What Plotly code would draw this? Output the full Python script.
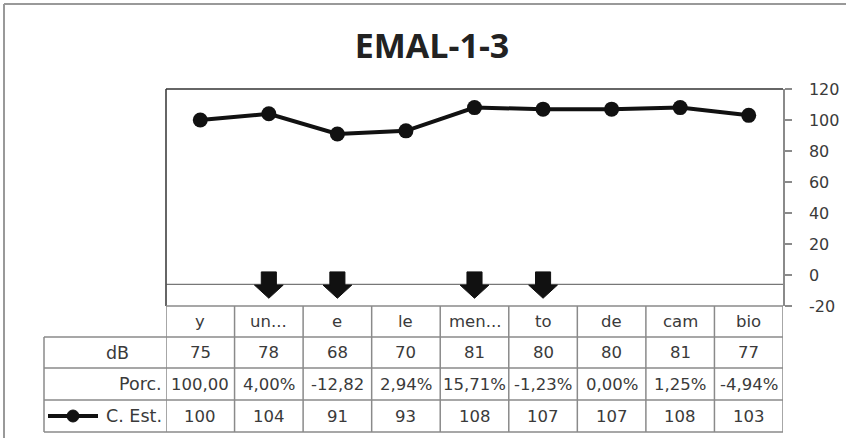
import plotly.graph_objects as go

# ---- data ----
categories = ["y", "un...", "e", "le", "men...", "to", "de", "cam", "bio"]
db_values = ["75", "78", "68", "70", "81", "80", "80", "81", "77"]
porc_values = ["100,00", "4,00%", "-12,82", "2,94%", "15,71%", "-1,23%", "0,00%", "1,25%", "-4,94%"]
c_est = [100, 104, 91, 93, 108, 107, 107, 108, 103]
arrow_cats = ["un...", "e", "men...", "to"]
row_labels = ["dB", "Porc.", "C. Est."]
title_text = "EMAL-1-3"
y_ticks = [-20, 0, 20, 40, 60, 80, 100, 120]
y_tick_labels = ["-20", "0", "20", "40", "60", "80", "100", "120"]
cross_level = -6

# ---- layout geometry (pixels) ----
W, H = 846, 441
L, R, T, B = 166, 783, 89, 306
TBL_LEFT = 44
ROW_EDGES = [306, 337, 368, 400, 432]

def px_x(p):
    return (p - L) / (R - L)

def px_y(p):
    return (B - p) / (B - T)

GRID = "#8a8a8a"
FONT = "DejaVu Sans"
TXT = "#3a3a3a"

fig = go.Figure()
fig.add_trace(go.Scatter(
    x=categories, y=c_est, mode="lines+markers",
    line=dict(color="#111111", width=4),
    marker=dict(color="#111111", size=15),
    showlegend=False, hoverinfo="skip",
))

shapes = []
annotations = []

# outer frame
shapes.append(dict(type="line", xref="paper", yref="paper",
                   x0=px_x(4), x1=px_x(W), y0=px_y(4), y1=px_y(4),
                   line=dict(color="#999999", width=2)))
shapes.append(dict(type="line", xref="paper", yref="paper",
                   x0=px_x(4), x1=px_x(4), y0=px_y(4), y1=px_y(438),
                   line=dict(color="#999999", width=2)))

# plot area top / left borders
shapes.append(dict(type="line", xref="x domain", yref="y domain",
                   x0=0, x1=1, y0=1, y1=1, line=dict(color="#333333", width=1.5)))
shapes.append(dict(type="line", xref="x domain", yref="y domain",
                   x0=0, x1=0, y0=0, y1=1, line=dict(color="#333333", width=1.5)))
# crossing line
shapes.append(dict(type="line", xref="x domain", yref="y",
                   x0=0, x1=1, y0=cross_level, y1=cross_level,
                   line=dict(color="#555555", width=1)))

# arrows
for c in arrow_cats:
    i = categories.index(c)
    sw, hw = 0.11, 0.21
    top, neck, tip = 2, -6.5, -15
    path = (f"M {i-sw},{top} L {i+sw},{top} L {i+sw},{neck} L {i+hw},{neck} "
            f"L {i},{tip} L {i-hw},{neck} L {i-sw},{neck} Z")
    shapes.append(dict(type="path", xref="x", yref="y", path=path,
                       fillcolor="#111111", line=dict(color="#111111", width=1),
                       layer="above"))

# table lines
n = len(categories)
shapes.append(dict(type="line", xref="paper", yref="paper",
                   x0=0, x1=1, y0=px_y(ROW_EDGES[0]), y1=px_y(ROW_EDGES[0]),
                   line=dict(color=GRID, width=1.5)))
for e in ROW_EDGES[1:]:
    shapes.append(dict(type="line", xref="paper", yref="paper",
                       x0=px_x(TBL_LEFT), x1=1, y0=px_y(e), y1=px_y(e),
                       line=dict(color=GRID, width=1.5)))
for k in range(n + 1):
    shapes.append(dict(type="line", xref="x", yref="paper",
                       x0=k - 0.5, x1=k - 0.5,
                       y0=px_y(ROW_EDGES[0]), y1=px_y(ROW_EDGES[-1]),
                       line=dict(color=GRID, width=1.5)))
shapes.append(dict(type="line", xref="paper", yref="paper",
                   x0=px_x(TBL_LEFT), x1=px_x(TBL_LEFT),
                   y0=px_y(ROW_EDGES[1]), y1=px_y(ROW_EDGES[-1]),
                   line=dict(color=GRID, width=1.5)))

def row_center(r):
    return px_y((ROW_EDGES[r] + ROW_EDGES[r + 1]) / 2)

tfont = dict(family=FONT, size=16.5, color=TXT)
lfont = dict(family=FONT, size=17.5, color=TXT)
for i, c in enumerate(categories):
    annotations.append(dict(x=c, xref="x", y=row_center(0), yref="paper",
                            text=c, showarrow=False, font=tfont,
                            xanchor="center", yanchor="middle"))
    for r, vals in enumerate([db_values, porc_values, [str(v) for v in c_est]]):
        annotations.append(dict(x=c, xref="x", y=row_center(r + 1), yref="paper",
                                text=vals[i], showarrow=False, font=tfont,
                                xanchor="center", yanchor="middle"))

annotations.append(dict(x=px_x(117), xref="paper", y=row_center(1), yref="paper",
                        text=row_labels[0], showarrow=False, font=lfont,
                        xanchor="center", yanchor="middle"))
for r in (1, 2):
    annotations.append(dict(x=px_x(164), xref="paper", y=row_center(r + 1), yref="paper",
                            text=row_labels[r], showarrow=False, font=lfont,
                            xanchor="right", yanchor="middle"))

# legend key in C. Est. row
ky = row_center(3)
shapes.append(dict(type="line", xref="paper", yref="paper",
                   x0=px_x(48), x1=px_x(98), y0=ky, y1=ky,
                   line=dict(color="#111111", width=4)))
shapes.append(dict(type="circle", xref="paper", yref="paper",
                   x0=px_x(67), x1=px_x(79), y0=ky - 6 / (B - T), y1=ky + 6 / (B - T),
                   fillcolor="#111111", line=dict(color="#111111", width=1)))

fig.update_layout(
    width=W, height=H,
    margin=dict(l=L, r=W - R, t=T, b=H - B, autoexpand=False),
    paper_bgcolor="white", plot_bgcolor="white",
    title=dict(text=title_text, x=432 / W, xanchor="center", xref="container",
               y=1 - 46 / H, yanchor="middle", yref="container",
               font=dict(family="Open Sans", size=34, color="#222222", weight="bold")),
    xaxis=dict(type="category", categoryorder="array", categoryarray=categories,
               range=[-0.5, n - 0.5], showticklabels=False, showgrid=False,
               zeroline=False, showline=False, ticks="", automargin=False),
    yaxis=dict(side="right", range=[-20, 120], tickvals=y_ticks, ticktext=y_tick_labels,
               showgrid=False, zeroline=False, showline=True, linecolor=GRID,
               linewidth=1.5, ticks="outside", ticklen=7, tickcolor=GRID,
               tickwidth=1.5, ticklabelstandoff=14, automargin=False,
               tickfont=dict(family=FONT, size=16, color=TXT)),
    shapes=shapes, annotations=annotations,
    showlegend=False,
)

fig.write_html("out.html", config={"displayModeBar": False},
               post_script="document.body.style.margin='0';")
